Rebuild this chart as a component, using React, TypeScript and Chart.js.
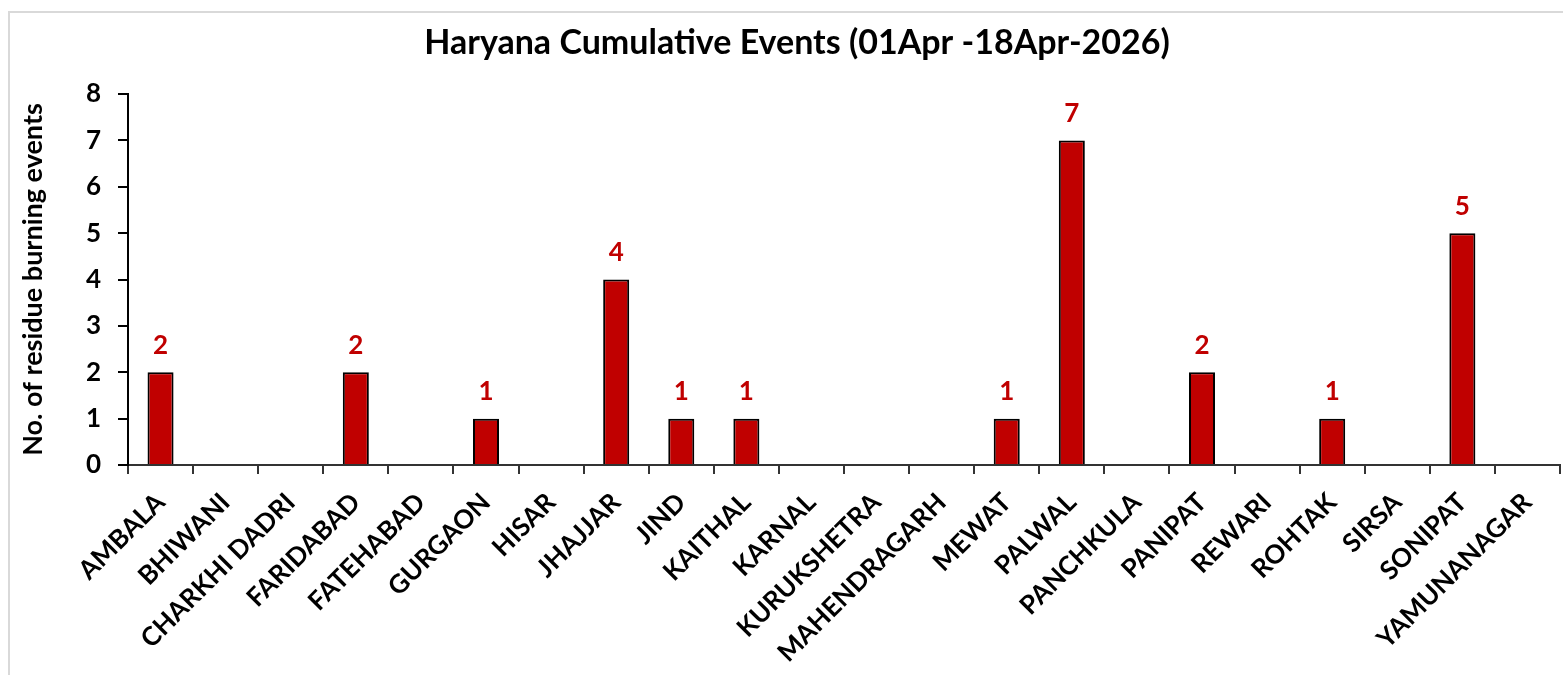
import React, { useEffect, useRef } from "react";
import { Chart, registerables } from "chart.js";

Chart.register(...registerables);

const titleText = "Haryana Cumulative Events (01Apr -18Apr-2026)";
const yAxisTitle = "No. of residue burning events";
const districts = [
  "AMBALA", "BHIWANI", "CHARKHI DADRI", "FARIDABAD", "FATEHABAD", "GURGAON",
  "HISAR", "JHAJJAR", "JIND", "KAITHAL", "KARNAL", "KURUKSHETRA",
  "MAHENDRAGARH", "MEWAT", "PALWAL", "PANCHKULA", "PANIPAT", "REWARI",
  "ROHTAK", "SIRSA", "SONIPAT", "YAMUNANAGAR",
];
const events = [2, 0, 0, 2, 0, 1, 0, 4, 1, 1, 0, 0, 0, 1, 7, 0, 2, 0, 1, 0, 5, 0];
const yTicks = [0, 1, 2, 3, 4, 5, 6, 7, 8];

const FONT = "Lato, 'Open Sans', sans-serif";
const RED = "#C00000";

const frameAndLabels = {
  id: "frameAndLabels",
  beforeDraw(chart: any) {
    const ctx = chart.ctx;
    ctx.save();
    ctx.strokeStyle = "#d9d9d9";
    ctx.lineWidth = 2;
    ctx.beginPath();
    ctx.moveTo(9, chart.height + 5);
    ctx.lineTo(9, 12);
    ctx.lineTo(chart.width + 5, 12);
    ctx.stroke();
    ctx.fillStyle = "#000";
    ctx.font = `bold 34px ${FONT}`;
    ctx.textAlign = "center";
    ctx.textBaseline = "middle";
    ctx.fillText(titleText, 797, 43);
    ctx.restore();
  },
  afterDatasetsDraw(chart: any) {
    const ctx = chart.ctx;
    const meta = chart.getDatasetMeta(0);
    ctx.save();
    ctx.fillStyle = RED;
    ctx.font = `bold 26px ${FONT}`;
    ctx.textAlign = "center";
    ctx.textBaseline = "middle";
    meta.data.forEach((bar: any, i: number) => {
      const v = events[i];
      if (!v) return;
      ctx.fillText(String(v), bar.x, bar.y - 27);
    });
    ctx.restore();
  },
};

export default function App() {
  const ref = useRef<HTMLCanvasElement>(null);
  useEffect(() => {
    if (!ref.current) return;
    const chart = new Chart(ref.current, {
      type: "bar",
      data: {
        labels: districts,
        datasets: [
          {
            data: events,
            backgroundColor: RED,
            borderColor: "#000000",
            borderWidth: 2,
            barPercentage: 0.8,
            categoryPercentage: 0.5,
          },
        ],
      },
      options: {
        animation: false,
        responsive: false,
        maintainAspectRatio: false,
        layout: { padding: { top: 94, right: 3, bottom: 0, left: 0 } },
        plugins: {
          legend: { display: false },
          tooltip: { enabled: false },
          title: { display: false },
        },
        scales: {
          x: {
            offset: true,
            grid: {
              display: true,
              drawOnChartArea: false,
              drawTicks: true,
              tickLength: 9,
              color: "#333",
              lineWidth: 2,
              offset: true,
            },
            border: { display: true, color: "#333", width: 2 },
            ticks: {
              color: "#000",
              font: { family: FONT, size: 26, weight: "bold" },
              minRotation: 45,
              maxRotation: 45,
              autoSkip: false,
              padding: 13,
            },
            afterFit(scale: any) {
              scale.height = 210;
            },
          },
          y: {
            min: 0,
            max: 8,
            afterBuildTicks(scale: any) {
              scale.ticks = yTicks.map((v) => ({ value: v }));
            },
            grid: {
              display: true,
              drawOnChartArea: false,
              drawTicks: true,
              tickLength: 10,
              color: "#000",
              lineWidth: 2,
            },
            border: { display: true, color: "#000", width: 2 },
            ticks: {
              color: "#000",
              font: { family: FONT, size: 26, weight: "bold" },
              padding: 17,
            },
            title: {
              display: true,
              text: yAxisTitle,
              color: "#000",
              font: { family: FONT, size: 27, weight: "bold" },
              padding: { top: 17, bottom: 0 },
            },
            afterFit(scale: any) {
              scale.width = 128;
            },
          },
        },
      },
      plugins: [frameAndLabels],
    });
    return () => chart.destroy();
  }, []);
  return (
    <div style={{ position: "fixed", left: 0, top: 0, width: 1563, height: 675, background: "#fff" }}>
      <canvas ref={ref} width={1563} height={675} style={{ display: "block" }} />
    </div>
  );
}
